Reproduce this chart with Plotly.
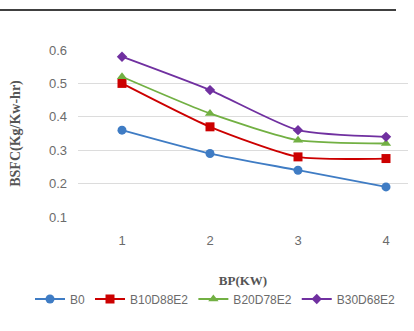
import plotly.graph_objects as go

bp = [1, 2, 3, 4]
b0 = [0.36, 0.29, 0.24, 0.19]
b10 = [0.50, 0.37, 0.28, 0.275]
b20 = [0.52, 0.41, 0.33, 0.32]
b30 = [0.58, 0.48, 0.36, 0.34]
names = ["B0", "B10D88E2", "B20D78E2", "B30D68E2"]
colors = ["#3f7cc4", "#cc0000", "#72b043", "#7030a0"]
symbols = ["circle", "square", "triangle-up", "diamond"]
sizes = [9, 9, 9, 8]

fig = go.Figure()
for ys, n, c, s, sz in zip([b0, b10, b20, b30], names, colors, symbols, sizes):
    fig.add_trace(go.Scatter(
        x=bp, y=ys, name=n, mode="lines+markers",
        line=dict(color=c, width=1.8, shape="spline", smoothing=0.6),
        marker=dict(symbol=s, size=sz, color=c),
    ))

fig.update_layout(
    width=414, height=331,
    margin=dict(l=78, r=6, t=49, b=113, autoexpand=False),
    paper_bgcolor="white", plot_bgcolor="white",
    font=dict(family="Liberation Sans, Arial, sans-serif", size=12, color="#6b6b6b"),
    xaxis=dict(
        range=[0.5, 4.25], tickvals=bp, ticktext=[str(v) for v in bp],
        showgrid=False, zeroline=False, showline=False, ticks="",
        tickfont=dict(size=13, color="#6b6b6b"), ticklabelstandoff=13,
        title=dict(text="<b>BP(KW)</b>", font=dict(family="Liberation Serif, Times New Roman, serif", size=13, color="#555555"), standoff=28),
    ),
    yaxis=dict(
        range=[0.097, 0.603], tickvals=[0.1, 0.2, 0.3, 0.4, 0.5, 0.6],
        ticktext=["0.1", "0.2", "0.3", "0.4", "0.5", "0.6"],
        showgrid=True, gridcolor="#dcdcdc", gridwidth=1,
        zeroline=False, showline=False, ticks="",
        tickfont=dict(size=13, color="#6b6b6b"), ticklabelstandoff=10,
        title=dict(text="<b>BSFC(Kg/Kw-hr)</b>", font=dict(family="Liberation Serif, Times New Roman, serif", size=14, color="#555555"), standoff=25),
    ),
    legend=dict(
        orientation="h", x=(30 - 78) / 330, xanchor="left",
        y=-(299 - 218) / 169, yanchor="middle",
        font=dict(size=12, color="#6b6b6b"), itemwidth=30, tracegroupgap=0,
    ),
    shapes=[
        dict(type="line", xref="paper", yref="paper",
             x0=-78/330, x1=(396-78)/330, y0=1+39/169, y1=1+39/169,
             line=dict(color="black", width=1.5)),
    ],
)

fig.write_html("out.html")
